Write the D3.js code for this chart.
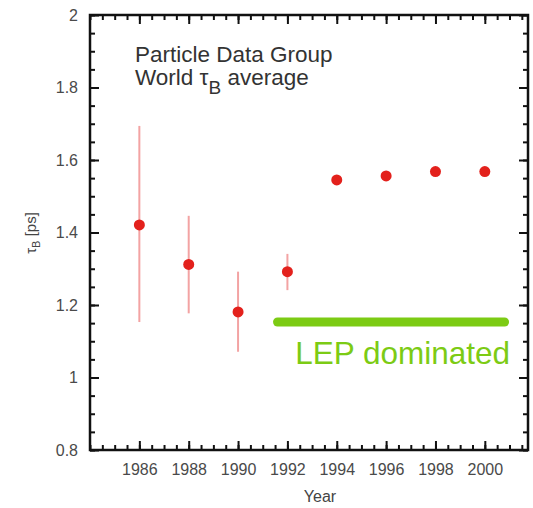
<!DOCTYPE html>
<html>
<head>
<meta charset="utf-8">
<script src="https://cdn.jsdelivr.net/npm/d3@7"></script>
<style>
  body { margin: 0; background: #fff; }
  svg { display: block; font-family: "Liberation Sans", Arial, sans-serif; }
</style>
</head>
<body>
<div id="chart"></div>
<script>
// ---- data ----
const years   = [1986, 1988, 1990, 1992, 1994, 1996, 1998, 2000];
const tauB    = [1.421, 1.312, 1.181, 1.292, 1.545, 1.556, 1.568, 1.568];
const errLow  = [1.153, 1.177, 1.071, 1.241, 1.535, 1.547, 1.559, 1.559];
const errHigh = [1.694, 1.446, 1.292, 1.341, 1.555, 1.565, 1.577, 1.577];
const yearTicks = [1986, 1988, 1990, 1992, 1994, 1996, 1998, 2000];
const tauTicks  = [0.8, 1, 1.2, 1.4, 1.6, 1.8, 2];
const lepYears  = [1991.6, 2000.8];
const lepLevel  = 1.153;
const titleLines = ['Particle Data Group', 'World '];

const W = 533, H = 508;
const frame = { left: 90, right: 528, top: 15, bottom: 450 };

const svg = d3.select('#chart').append('svg')
    .attr('width', W)
    .attr('height', H);

const x = d3.scaleLinear().domain([1984, 2001.75]).range([frame.left, frame.right]);
const y = d3.scaleLinear().domain([0.8, 2]).range([frame.bottom, frame.top]);

const minorX = d3.range(1984, 2001.75, 0.5);
const minorY = d3.range(0.8, 2.0001, 0.05);

// minor ticks on all four sides (inward)
const styleTicks = g => {
    g.select('.domain').remove();
    g.selectAll('.tick line').attr('stroke', '#111').attr('stroke-width', 2);
};
svg.append('g').attr('transform', `translate(0,${frame.bottom})`)
    .call(d3.axisBottom(x).tickValues(minorX).tickSize(-5).tickFormat(''))
    .call(styleTicks);
svg.append('g').attr('transform', `translate(0,${frame.top})`)
    .call(d3.axisTop(x).tickValues(minorX).tickSize(-5).tickFormat(''))
    .call(styleTicks);
svg.append('g').attr('transform', `translate(${frame.left},0)`)
    .call(d3.axisLeft(y).tickValues(minorY).tickSize(-5).tickFormat(''))
    .call(styleTicks);
svg.append('g').attr('transform', `translate(${frame.right},0)`)
    .call(d3.axisRight(y).tickValues(minorY).tickSize(-5).tickFormat(''))
    .call(styleTicks);

// major ticks with labels
const styleLabels = g => {
    styleTicks(g);
    g.selectAll('.tick text')
        .attr('fill', '#4a4a4a')
        .style('font-size', '16px');
};
svg.append('g').attr('transform', `translate(0,${frame.bottom})`)
    .call(d3.axisBottom(x).tickValues(yearTicks).tickSize(-9).tickPadding(14).tickFormat(d3.format('d')))
    .call(styleLabels);
svg.append('g').attr('transform', `translate(0,${frame.top})`)
    .call(d3.axisTop(x).tickValues(yearTicks).tickSize(-9).tickFormat(''))
    .call(styleTicks);
svg.append('g').attr('transform', `translate(${frame.left},0)`)
    .call(d3.axisLeft(y).tickValues(tauTicks).tickSize(-9).tickPadding(12).tickFormat(d => d3.format('')(d)))
    .call(styleLabels);
svg.append('g').attr('transform', `translate(${frame.right},0)`)
    .call(d3.axisRight(y).tickValues(tauTicks).tickSize(-9).tickFormat(''))
    .call(styleTicks);

// frame
svg.append('rect')
    .attr('x', frame.left)
    .attr('y', frame.top)
    .attr('width', frame.right - frame.left)
    .attr('height', frame.bottom - frame.top)
    .attr('fill', 'none')
    .attr('stroke', '#111')
    .attr('stroke-width', 2.5);

// error bars
svg.append('g').selectAll('line')
    .data(years)
    .enter()
    .append('line')
    .attr('x1', d => x(d))
    .attr('x2', d => x(d))
    .attr('y1', (d, i) => y(errLow[i]))
    .attr('y2', (d, i) => y(errHigh[i]))
    .attr('stroke', '#f3a3a3')
    .attr('stroke-width', 2);

// points
svg.append('g').selectAll('circle')
    .data(years)
    .enter()
    .append('circle')
    .attr('cx', d => x(d))
    .attr('cy', (d, i) => y(tauB[i]))
    .attr('r', 5.5)
    .attr('fill', '#e3211c');

// LEP dominated band
svg.append('line')
    .attr('x1', x(lepYears[0]))
    .attr('x2', x(lepYears[1]))
    .attr('y1', y(lepLevel))
    .attr('y2', y(lepLevel))
    .attr('stroke', '#7ccb14')
    .attr('stroke-width', 9)
    .attr('stroke-linecap', 'round');

svg.append('text')
    .attr('x', 510)
    .attr('y', 364)
    .attr('text-anchor', 'end')
    .attr('fill', '#7ccb14')
    .style('font-size', '31.5px')
    .text('LEP dominated');

// title block
const title = svg.append('text')
    .attr('fill', '#333')
    .style('font-size', '22.5px');
title.append('tspan').attr('x', 135).attr('y', 62).text(titleLines[0]);
title.append('tspan').attr('x', 135).attr('y', 85).text(titleLines[1]);
title.append('tspan').text('τ');
title.append('tspan').attr('dy', 9).style('font-size', '19px').text('B');
title.append('tspan').attr('dy', -9).text(' average');

// axis titles
const yLab = svg.append('text')
    .attr('transform', 'translate(36,233) rotate(-90)')
    .attr('text-anchor', 'middle')
    .attr('fill', '#444')
    .style('font-size', '15px');
yLab.append('tspan').text('τ');
yLab.append('tspan').attr('dy', 4).style('font-size', '11px').text('B');
yLab.append('tspan').attr('dy', -4).text(' [ps]');

svg.append('text')
    .attr('x', 320)
    .attr('y', 502)
    .attr('text-anchor', 'middle')
    .attr('fill', '#444')
    .style('font-size', '16px')
    .text('Year');
</script>
</body>
</html>
